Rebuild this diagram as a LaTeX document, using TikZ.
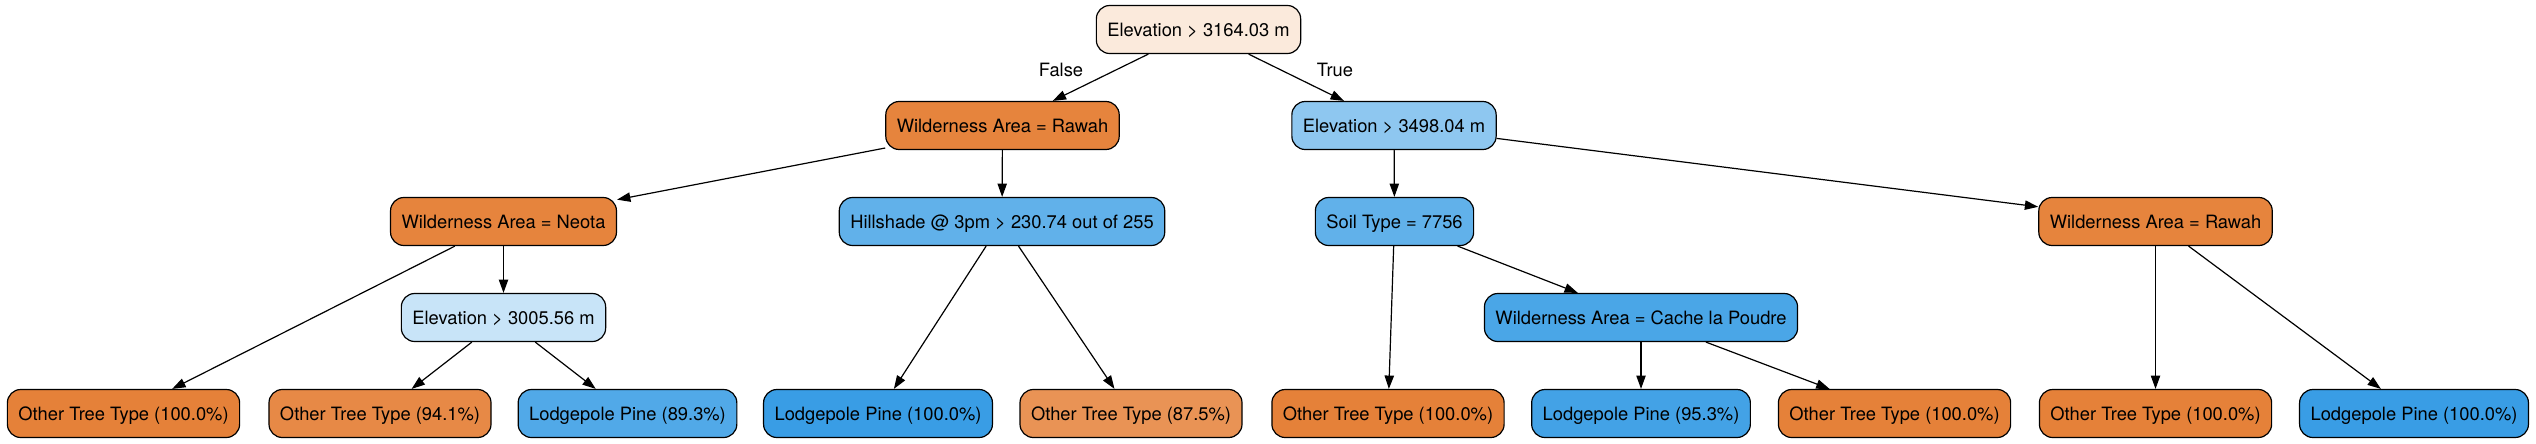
\documentclass[tikz,border=0pt]{standalone}
\usepackage{fontspec}
\setmainfont{TeX Gyre Heros}
\usepackage{tikz}
\usetikzlibrary{arrows.meta}
\definecolor{rootpeach}{RGB}{251,234,220}
\definecolor{orgfull}{RGB}{229,129,57}
\definecolor{orgsplit}{RGB}{230,132,61}
\definecolor{org941}{RGB}{231,137,70}
\definecolor{org875}{RGB}{233,147,85}
\definecolor{bluefull}{RGB}{57,157,229}
\definecolor{blue953}{RGB}{67,162,230}
\definecolor{blue893}{RGB}{81,169,232}
\definecolor{bluecache}{RGB}{74,166,231}
\definecolor{bluemid}{RGB}{97,177,234}
\definecolor{bluelight}{RGB}{142,199,240}
\definecolor{bluepale}{RGB}{200,228,248}

\begin{document}
\begin{tikzpicture}[
  x=0.75pt, y=-0.75pt,
  split/.style={draw, rounded corners=10pt, minimum height=36pt, inner xsep=8.25pt,
                text height=12.5pt, text depth=2.5pt, line width=0.9pt,
                font=\fontsize{13.75}{16}\selectfont},
  leaf/.style={split},
  arr/.style={-{Triangle[length=10pt, width=7pt]}, line width=0.9pt},
  edgelbl/.style={font=\fontsize{13.75}{16}\selectfont}
]
  \useasboundingbox (0,0) rectangle (2536,443);

  % Root and first split
  \node[split, fill=rootpeach] (root) at (1198.5,29.5) {Elevation > 3164.03 m};
  \node[split, fill=orgsplit] (rawahA) at (1002.5,125.5) {Wilderness Area = Rawah};
  \node[split, fill=bluelight] (elevB) at (1394,125.5) {Elevation > 3498.04 m};

  % Third row
  \node[split, fill=orgsplit] (neota) at (503.5,221.5) {Wilderness Area = Neota};
  \node[split, fill=bluemid] (hill) at (1002,221.5) {Hillshade @ 3pm > 230.74 out of 255};
  \node[split, fill=bluemid] (soil) at (1394.5,221.5) {Soil Type = 7756};
  \node[split, fill=orgsplit] (rawahB) at (2155.5,221.5) {Wilderness Area = Rawah};

  % Fourth row
  \node[split, fill=bluepale] (elevC) at (503.5,317.5) {Elevation > 3005.56 m};
  \node[split, fill=bluecache] (cache) at (1641,317.5) {Wilderness Area = Cache la Poudre};

  % Leaves
  \node[leaf, fill=orgfull] (leafA) at (123.5,413.5) {Other Tree Type (100.0\%)};
  \node[leaf, fill=org941] (leafB) at (380,413.5) {Other Tree Type (94.1\%)};
  \node[leaf, fill=blue893] (leafC) at (627.5,413.5) {Lodgepole Pine (89.3\%)};
  \node[leaf, fill=bluefull] (leafD) at (878,413.5) {Lodgepole Pine (100.0\%)};
  \node[leaf, fill=org875] (leafE) at (1131,413.5) {Other Tree Type (87.5\%)};
  \node[leaf, fill=orgfull] (leafF) at (1388,413.5) {Other Tree Type (100.0\%)};
  \node[leaf, fill=blue953] (leafG) at (1641,413.5) {Lodgepole Pine (95.3\%)};
  \node[leaf, fill=orgfull] (leafH) at (1894.5,413.5) {Other Tree Type (100.0\%)};
  \node[leaf, fill=orgfull] (leafI) at (2155.5,413.5) {Other Tree Type (100.0\%)};
  \node[leaf, fill=bluefull] (leafJ) at (2414,413.5) {Lodgepole Pine (100.0\%)};

  % Edge labels
  \node[edgelbl] (lblfalse) at (1061,70) {False};
  \node[edgelbl] (lbltrue) at (1335,70) {True};

  \draw[arr] (root) -- (rawahA);
  \draw[arr] (root) -- (elevB);
  \draw[arr] (rawahA) -- (neota);
  \draw[arr] (rawahA) -- (hill);
  \draw[arr] (neota) -- (leafA);
  \draw[arr] (neota) -- (elevC);
  \draw[arr] (elevC) -- (leafB);
  \draw[arr] (elevC) -- (leafC);
  \draw[arr] (hill) -- (leafD);
  \draw[arr] (hill) -- (leafE);
  \draw[arr] (elevB) -- (soil);
  \draw[arr] (elevB) -- (rawahB);
  \draw[arr] (soil) -- (leafF);
  \draw[arr] (soil) -- (cache);
  \draw[arr] (cache) -- (leafG);
  \draw[arr] (cache) -- (leafH);
  \draw[arr] (rawahB) -- (leafI);
  \draw[arr] (rawahB) -- (leafJ);
\end{tikzpicture}
\end{document}
